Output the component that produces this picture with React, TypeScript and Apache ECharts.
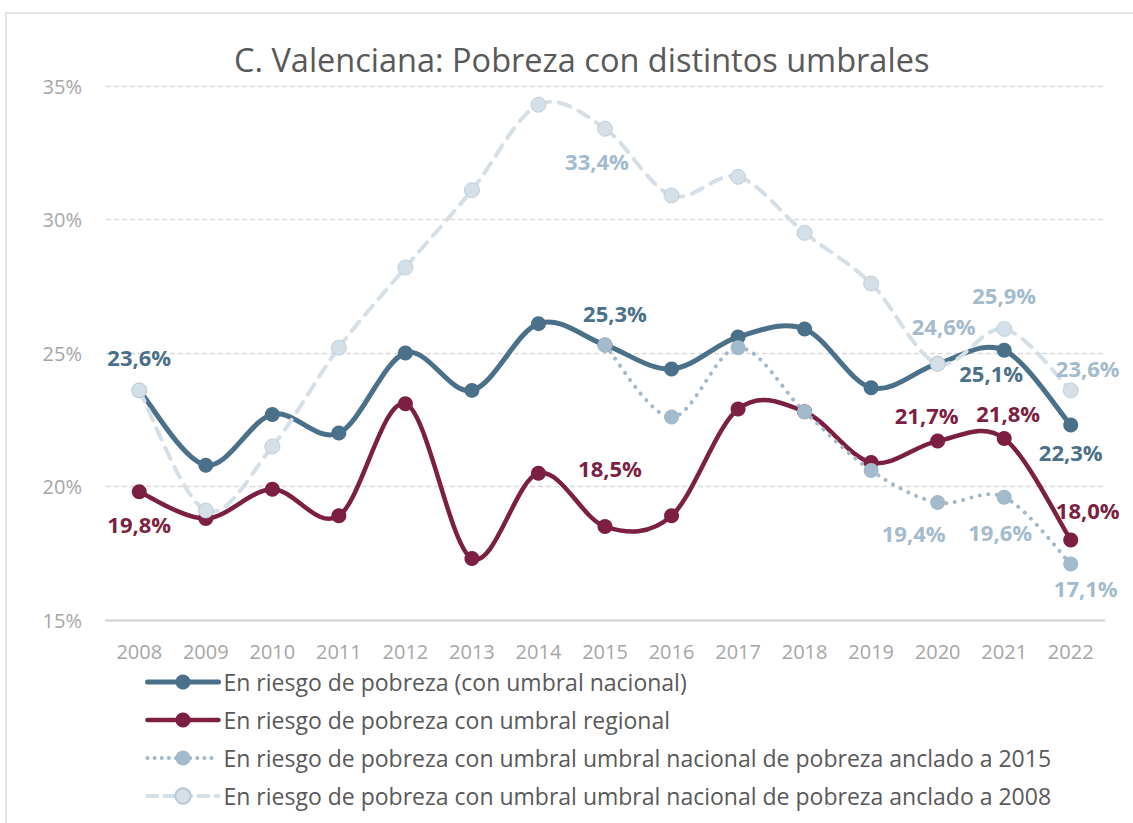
import React, { useEffect, useRef } from "react";
import * as echarts from "echarts";

const years = ["2008","2009","2010","2011","2012","2013","2014","2015","2016","2017","2018","2019","2020","2021","2022"];
const yTicks = [15, 20, 25, 30, 35];

const nacional = [23.6, 20.8, 22.7, 22.0, 25.0, 23.6, 26.1, 25.3, 24.4, 25.6, 25.9, 23.7, 24.6, 25.1, 22.3];
const regional = [19.8, 18.8, 19.9, 18.9, 23.1, 17.3, 20.5, 18.5, 18.9, 22.9, 22.8, 20.9, 21.7, 21.8, 18.0];
const anclado2015 = [null, null, null, null, null, null, null, 25.3, 22.6, 25.2, 22.8, 20.6, 19.4, 19.6, 17.1];
const anclado2008 = [23.6, 19.1, 21.5, 25.2, 28.2, 31.1, 34.3, 33.4, 30.9, 31.6, 29.5, 27.6, 24.6, 25.9, 23.6];

const seriesNames = [
  "En riesgo de pobreza (con umbral nacional)",
  "En riesgo de pobreza con umbral regional",
  "En riesgo de pobreza con umbral umbral nacional de pobreza anclado a 2015",
  "En riesgo de pobreza con umbral umbral nacional de pobreza anclado a 2008",
];

// label placement (index -> [dx, dy]) — styling only
const labelOffsets: Record<number, [number, number]>[] = [
  { 0: [0, -33], 7: [10, -32], 13: [-13, 23], 14: [0, 27] },
  { 0: [0, 32], 7: [5, -59], 12: [-11, -26], 13: [4, -25], 14: [17, -30] },
  { 12: [-24, 30], 13: [-4, 35], 14: [15, 24] },
  { 7: [-8, 32], 12: [6, -38], 13: [0, -34], 14: [17, -22] },
];

const FONT = "Open Sans";
const fmt = (v: number) => v.toFixed(1).replace(".", ",") + "%";

function buildData(values: (number | null)[], offsets: Record<number, [number, number]>, labelColor: string) {
  return values.map((v, i) => {
    if (v === null) return null;
    const off = offsets[i];
    if (!off) return { value: v };
    return {
      value: v,
      label: {
        show: true,
        position: "inside",
        offset: off,
        formatter: () => fmt(v),
        color: labelColor,
        fontFamily: FONT,
        fontWeight: "bold",
        fontSize: 22,
      },
    };
  });
}

export default function App() {
  const ref = useRef<HTMLDivElement>(null);
  useEffect(() => {
    if (!ref.current) return;
    const chart = echarts.init(ref.current, null, { renderer: "svg" });
    const colors = ["#4b718a", "#7c1f42", "#a2bacb", "#d4dfe7"];
    const markerColors = ["#4b718a", "#7c1f42", "#a2bacb", "#d4dfe7"];
    const labelColors = ["#4b718a", "#7c1f42", "#a3bbcc", "#a3bbcc"];
    const widths = [5, 4.5, 4, 4];
    const dashes: any[] = [null, null, [0.1, 8.5], [12, 9]];
    const legendTypes: any[] = ["solid", "solid", [0.1, 7], [10, 7]];
    const allValues = [nacional, regional, anclado2015, anclado2008];

    // Excel-style smoothed curves (Catmull-Rom Bezier) drawn through the axis scales
    const curveSeries = allValues.map((vals, s) => ({
      name: "curve" + s,
      type: "custom",
      coordinateSystem: "cartesian2d",
      silent: true,
      z: 2 + s,
      data: vals.map((v, i) => [i, v === null ? "-" : v]),
      encode: { x: 0, y: 1 },
      renderItem: (params: any, api: any) => {
        const i = params.dataIndex;
        const n = vals.length;
        if (vals[i] === null || i + 1 >= n || vals[i + 1] === null) return null;
        const pt = (k: number) => api.coord([k, vals[k] as number]);
        const p1 = pt(i);
        const p2 = pt(i + 1);
        const p0 = i - 1 >= 0 && vals[i - 1] !== null ? pt(i - 1) : p1;
        const p3 = i + 2 < n && vals[i + 2] !== null ? pt(i + 2) : p2;
        const t = 1 / 6;
        return {
          type: "bezierCurve",
          shape: {
            x1: p1[0], y1: p1[1],
            cpx1: p1[0] + (p2[0] - p0[0]) * t, cpy1: p1[1] + (p2[1] - p0[1]) * t,
            cpx2: p2[0] - (p3[0] - p1[0]) * t, cpy2: p2[1] - (p3[1] - p1[1]) * t,
            x2: p2[0], y2: p2[1],
          },
          style: {
            fill: "none",
            stroke: colors[s],
            lineWidth: widths[s],
            lineDash: dashes[s],
            lineCap: "round",
          },
        };
      },
    }));

    const pointSeries = allValues.map((vals, s) => ({
      name: seriesNames[s],
      type: "line",
      data: buildData(vals, labelOffsets[s], labelColors[s]),
      smooth: false,
      symbol: "circle",
      symbolSize: 15,
      showAllSymbol: true,
      lineStyle: { opacity: 0, width: 0 },
      itemStyle: {
        color: markerColors[s],
        borderColor: s === 3 ? "#b7c8d4" : markerColors[s],
        borderWidth: s === 3 ? 0.8 : 0,
      },
      label: { show: false },
      emphasis: { disabled: true },
      z: 10 + s,
    }));

    chart.setOption({
      animation: false,
      title: {
        text: "C. Valenciana: Pobreza con distintos umbrales",
        left: 229,
        top: 38,
        textStyle: { fontFamily: FONT, fontSize: 32.5, fontWeight: "normal", color: "#595959" },
      },
      graphic: [
        {
          type: "rect",
          shape: { x: 6, y: 13, width: 1140, height: 830 },
          style: { fill: "none", stroke: "#d9d9d9", lineWidth: 1.5 },
          silent: true,
        },
      ],
      legend: {
        data: seriesNames.map((name, s) => ({
          name,
          lineStyle: { color: colors[s], width: widths[s], type: legendTypes[s], opacity: 1, cap: "round" },
          itemStyle: { color: markerColors[s] },
        })),
        orient: "vertical",
        left: 140,
        top: 665,
        itemWidth: 71,
        itemHeight: 19,
        itemGap: 14,
        textStyle: { fontFamily: FONT, fontSize: 23, color: "#595959", lineHeight: 24 },
        selectedMode: false,
      },
      grid: { left: 106, right: 29, top: 86, bottom: 203, containLabel: false },
      xAxis: {
        type: "category",
        data: years,
        boundaryGap: true,
        axisLine: { lineStyle: { color: "#d9d9d9", width: 2.5 } },
        axisTick: { show: false },
        axisLabel: { fontFamily: FONT, fontSize: 20, color: "#a6a6a6", margin: 21 },
      },
      yAxis: {
        type: "value",
        min: yTicks[0],
        max: yTicks[yTicks.length - 1],
        interval: 5,
        axisLine: { show: false },
        axisTick: { show: false },
        axisLabel: { fontFamily: FONT, fontSize: 20, color: "#a6a6a6", margin: 24, formatter: "{value}%" },
        splitLine: { lineStyle: { color: "#d9d9d9", type: [5, 3], width: 1.3 } },
      },
      series: [...curveSeries, ...pointSeries],
    });
    return () => chart.dispose();
  }, []);
  return <div ref={ref} style={{ position: "fixed", left: 0, top: 0, width: 1133, height: 823, background: "#fff" }} />;
}
